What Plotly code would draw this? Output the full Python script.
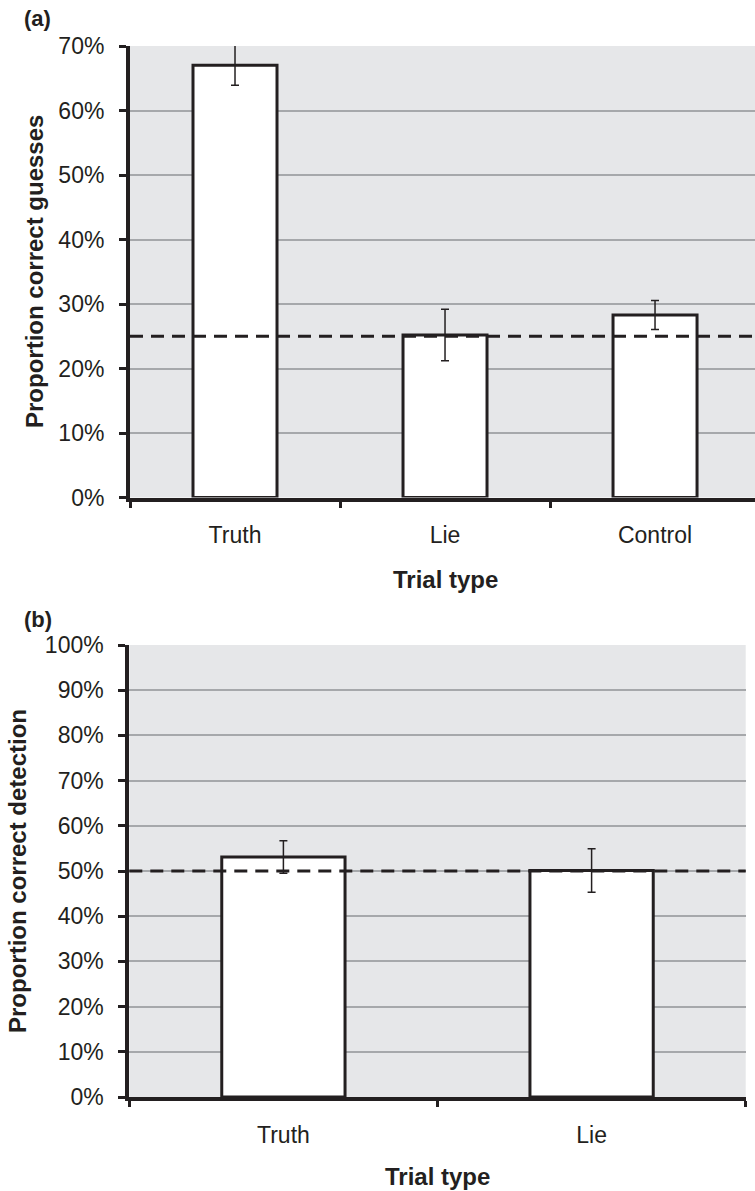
import plotly.graph_objects as go

# ---- data ----
cats_a = ["Truth", "Lie", "Control"]
vals_a = [0.670, 0.252, 0.283]
err_a = [0.031, 0.040, 0.0225]
chance_a = 0.25
yticks_a = [0.0, 0.1, 0.2, 0.3, 0.4, 0.5, 0.6, 0.7]

cats_b = ["Truth", "Lie"]
vals_b = [0.531, 0.501]
err_b = [0.036, 0.048]
chance_b = 0.50
yticks_b = [0.0, 0.1, 0.2, 0.3, 0.4, 0.5, 0.6, 0.7, 0.8, 0.9, 1.0]

W, H = 755, 1191
INK = "#231f20"
BG = "#e6e7e9"
GRID = "#a6a8ab"
FONT = "Liberation Sans, Arial, sans-serif"


def px_x(p):
    return p / W


def px_y(p):
    return 1 - p / H


fig = go.Figure()

fig.add_trace(go.Bar(
    x=cats_a, y=vals_a, width=0.4, xaxis="x", yaxis="y",
    marker=dict(color="white", line=dict(color=INK, width=3)),
    error_y=dict(type="data", array=err_a, color=INK, thickness=1.5, width=4),
    showlegend=False,
))
fig.add_trace(go.Bar(
    x=cats_b, y=vals_b, width=0.4, xaxis="x2", yaxis="y2",
    marker=dict(color="white", line=dict(color=INK, width=3)),
    error_y=dict(type="data", array=err_b, color=INK, thickness=1.5, width=4),
    showlegend=False,
))

axis_common_y = dict(
    tickformat=".0%", showgrid=True, gridcolor=GRID, gridwidth=1.5,
    showline=True, linecolor=INK, linewidth=4, ticks="outside",
    ticklen=7, tickwidth=3, tickcolor=INK, zeroline=False,
    tickfont=dict(family=FONT, size=23, color=INK), ticklabelstandoff=10,
)
axis_common_x = dict(
    type="category", showgrid=False, showline=True, linecolor=INK, linewidth=4,
    ticks="outside", tickson="boundaries", ticklen=6, tickwidth=3, tickcolor=INK,
    tickfont=dict(family=FONT, size=23, color=INK), ticklabelstandoff=14,
)

fig.update_layout(
    width=W, height=H,
    margin=dict(l=0, r=0, t=0, b=0, autoexpand=False),
    paper_bgcolor="white",
    plot_bgcolor=BG,
    bargap=0.6,
    xaxis=dict(domain=[px_x(130), 1.0], range=[-0.5, 2.476], anchor="y", **axis_common_x),
    yaxis=dict(domain=[px_y(497.5), px_y(46)], range=[0, 0.7], tickvals=yticks_a,
               anchor="x", **axis_common_y),
    xaxis2=dict(domain=[px_x(129.3), px_x(745.7)], range=[-0.5, 1.5], anchor="y2", **axis_common_x),
    yaxis2=dict(domain=[px_y(1097), px_y(645)], range=[0, 1.0], tickvals=yticks_b,
                anchor="x2", **axis_common_y),
)

# chance lines
fig.add_shape(type="line", xref="x domain", yref="y", x0=0, x1=1, y0=chance_a, y1=chance_a,
              line=dict(color=INK, width=3, dash="13px,8px"), layer="above")
fig.add_shape(type="line", xref="x2 domain", yref="y2", x0=0, x1=1, y0=chance_b, y1=chance_b,
              line=dict(color=INK, width=3, dash="13px,8px"), layer="above")

title_font = dict(family=FONT, size=24, color=INK)
ann = [
    dict(text="<b>(a)</b>", x=px_x(22), y=px_y(19), xanchor="left", yanchor="middle",
         font=dict(family=FONT, size=22, color=INK)),
    dict(text="<b>(b)</b>", x=px_x(22), y=px_y(619), xanchor="left", yanchor="middle",
         font=dict(family=FONT, size=22, color=INK)),
    dict(text="<b>Proportion correct guesses</b>", x=px_x(34), y=px_y(272), textangle=-90,
         xanchor="center", yanchor="middle", font=title_font),
    dict(text="<b>Proportion correct detection</b>", x=px_x(18), y=px_y(871), textangle=-90,
         xanchor="center", yanchor="middle", font=title_font),
    dict(text="<b>Trial type</b>", x=px_x(445), y=px_y(579), xanchor="center", yanchor="middle",
         font=title_font),
    dict(text="<b>Trial type</b>", x=px_x(437), y=px_y(1176), xanchor="center", yanchor="middle",
         font=title_font),
]
for a in ann:
    a.update(xref="paper", yref="paper", showarrow=False)
fig.update_layout(annotations=ann)

fig.write_html(
    "out.html",
    config={"displayModeBar": False},
    post_script="document.body.style.margin='0';document.body.style.overflow='hidden';",
)
